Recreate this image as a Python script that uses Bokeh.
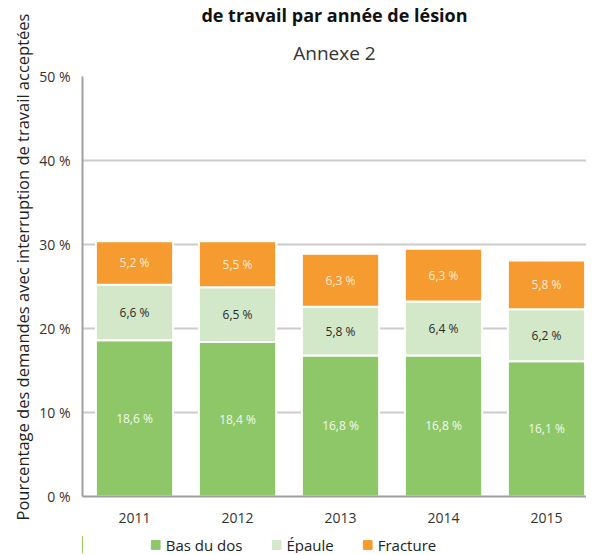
from bokeh.plotting import figure
from bokeh.layouts import column
from bokeh.models import (FixedTicker, Legend, LegendItem, ColumnDataSource, Range1d, Title)
from bokeh.core.properties import value
from bokeh.embed import file_html
from bokeh.resources import INLINE

years = ["2011", "2012", "2013", "2014", "2015"]
bas_du_dos = [18.6, 18.4, 16.8, 16.8, 16.1]
epaule = [6.6, 6.5, 5.8, 6.4, 6.2]
fracture = [5.2, 5.5, 6.3, 6.3, 5.8]
series_names = ["Bas du dos", "Épaule", "Fracture"]
colors = ["#8dc767", "#d3e8c8", "#f59b2f"]
label_colors = ["#f4faef", "#2a2a2a", "#fdebd6"]
y_ticks = [0, 10, 20, 30, 40, 50]
title_text = "de travail par année de lésion"
subtitle_text = "Annexe 2"
y_title = "Pourcentage des demandes avec interruption de travail acceptées"

FONT = "Open Sans"

def fmt(v):
    return ("%.1f" % v).replace(".", ",") + " %"

x = list(range(len(years)))
src = ColumnDataSource(dict(x=x, bas=bas_du_dos, ep=epaule, fr=fracture))

p = figure(frame_width=504, frame_height=420, output_backend="svg", toolbar_location=None,
           title=title_text,
           x_range=Range1d(-0.505, -0.505 + 504 / 103), y_range=Range1d(0, 50),
           min_border_left=82, min_border_right=0, min_border_top=76, min_border_bottom=40)
p.outline_line_color = None
p.background_fill_color = "white"
p.border_fill_color = "white"

p.title.align = "center"
p.title.text_font = FONT
p.title.text_font_style = "bold"
p.title.text_font_size = "18px"
p.title.text_color = "#111111"
p.title.standoff = 0

p.add_layout(Title(text=subtitle_text, align="center", text_font=FONT, text_font_style="normal",
                   text_font_size="19px", text_color="#333333", standoff=22), "above")

p.add_layout(Title(text=y_title, align="left", offset=-24, text_font=FONT,
                   text_font_style="normal", text_font_size="16.5px", text_color="#222222",
                   standoff=6), "left")

p.vbar_stack(["bas", "ep", "fr"], x="x", width=0.75, source=src,
             color=colors, line_color="white", line_width=2)

# segment labels
bottoms = [0] * len(years)
for vals, col in zip([bas_du_dos, epaule, fracture], label_colors):
    mids = [b + v / 2 for b, v in zip(bottoms, vals)]
    lsrc = ColumnDataSource(dict(x=x, y=mids, t=[fmt(v) for v in vals]))
    p.text(x="x", y="y", text="t", source=lsrc, text_align="center", text_baseline="middle",
           text_font=value(FONT), text_font_size="12px", text_color=col)
    bottoms = [b + v for b, v in zip(bottoms, vals)]

# axes
p.yaxis.ticker = FixedTicker(ticks=y_ticks)
p.yaxis.major_label_overrides = {t: f"{t} %" for t in y_ticks}
p.xaxis.ticker = FixedTicker(ticks=x)
p.xaxis.major_label_overrides = {i: y for i, y in enumerate(years)}
for ax in (p.xaxis[0], p.yaxis[0]):
    ax.axis_line_color = "#a0a0a0"
    ax.axis_line_width = 2
    ax.major_tick_line_color = None
    ax.minor_tick_line_color = None
    ax.major_label_text_font = FONT
    ax.major_label_text_font_size = "14px"
    ax.major_label_text_color = "#333333"
p.yaxis.major_label_standoff = 6
p.xaxis.major_label_standoff = 10

p.xgrid.grid_line_color = None
p.ygrid.ticker = FixedTicker(ticks=y_ticks[1:])
p.ygrid.grid_line_color = "#cccccc"
p.ygrid.grid_line_width = 2

# legend in its own small figure below the chart (its bars lie outside its view)
lf = figure(frame_width=512, frame_height=17, output_backend="svg", toolbar_location=None,
            x_range=Range1d(20, 21), y_range=Range1d(0, 1),
            x_axis_location=None, y_axis_location=None,
            min_border_left=74, min_border_right=0, min_border_top=0, min_border_bottom=0)
lf.outline_line_color = None
lf.grid.visible = False
swatches = lf.vbar_stack(["bas", "ep", "fr"], x="x", width=0.75, source=src,
                         color=colors, line_color=colors)
legend = Legend(items=[LegendItem(label=n, renderers=[r]) for n, r in zip(series_names, swatches)],
                orientation="horizontal", location="center", border_line_color=None,
                background_fill_alpha=0, label_height=16,
                label_text_font=FONT, label_text_font_size="15px", label_text_color="#222222",
                glyph_width=11, glyph_height=11, spacing=28, padding=0, margin=0, label_standoff=5)
lf.add_layout(legend, "center")

layout = column(p, lf, spacing=0)
open("out.html", "w").write(file_html(layout, INLINE))
